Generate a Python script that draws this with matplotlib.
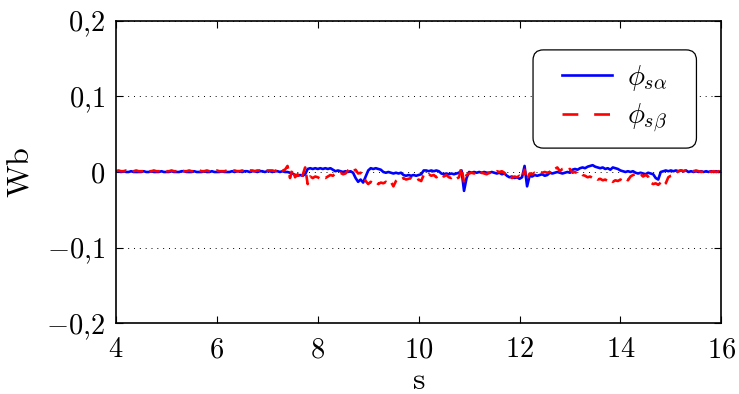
import matplotlib
matplotlib.use("Agg")
import matplotlib.pyplot as plt
from matplotlib.patches import FancyBboxPatch
import numpy as np

plt.rcParams['mathtext.fontset'] = 'cm'
plt.rcParams['font.family'] = 'serif'
plt.rcParams['font.serif'] = ['cmr10', 'DejaVu Serif']
plt.rcParams['axes.formatter.use_mathtext'] = True

# flux estimates, mWb, one sample every 0.05 s from 4 s to 16 s
phi_alpha = [
    1, 1, 0, 1, 0, 0, 1, 0, 0, 0, 0, 1, 0, 0, 1, 0, 0, 0, 1, 0,          # 4
    0, 0, 1, 0, 0, 0, 1, 1, 0, 0, 0, 1, 0, 0, 0, 1, 0, 0, 1, 0,          # 5
    0, 0, 1, 0, 0, 0, 1, 0, 1, 1, 0, 1, 1, 0, 1, 1, 0, 1, 1, 0,          # 6
    1, 1, 0, 1, 1, 0, 1, 0, 0, -1, -2, -4, -5, -4, -5, -3, 4, 5, 4, 5,   # 7
    4, 5, 4, 5, 4, 5, 3, 1, 2, 1, 0, 1, 0, 1, -1, -8, -13, -10, -14, -6,  # 8
    2, 5, 4, 5, 4, 3, 0, -1, 0, -1, -2, -1, -2, -1, -4, -5, -4, -5, -4, -5,  # 9
    -4, -3, 2, 2, 1, 2, 1, 2, 1, -2, -3, -2, -3, -2, -3, -2, -1, 2, -25, -8,  # 10
    0, -1, 0, -1, 0, -1, 0, -1, -1, 0, -1, -2, -1, -3, -2, -5, -7, -6, -8, -7,  # 11
    -9, -7, 8, -19, -5, -6, -4, -5, -4, -3, -5, -4, -1, -2, -1, 0, -1, -2, -1, 0,  # 12
    -1, 3, 4, 3, 5, 6, 5, 7, 8, 9, 7, 6, 5, 6, 4, 5, 3, 6, 5, 4,        # 13
    2, 1, 0, 1, 0, 1, -1, -2, -1, -2, -3, -1, -2, -3, -8, -10, 0, 1, 2, 1,  # 14
    2, 1, 2, 1, 2, 1, 2, 0, 1, 0, 1, 0, 1, 0, 1, 0, 1, 0, 1, 0,          # 15
    1,
]
phi_beta = [
    1, 2, 1, 1, 2, 1, 1, 1, 2, 1, 1, 1, 2, 1, 1, 2, 1, 1, 1, 2,          # 4
    1, 1, 2, 1, 1, 1, 2, 1, 1, 2, 1, 1, 1, 2, 1, 1, 2, 1, 1, 1,          # 5
    2, 1, 1, 1, 2, 1, 1, 2, 1, 1, 2, 1, 1, 2, 2, 1, 2, 2, 1, 2,          # 6
    2, 2, 2, 1, 3, 5, 2, 3, 8, -8, 4, -7, -3, -10, -4, 6, -16, -6, -8, -6,  # 7
    -7, -9, -7, -8, -6, -4, -5, -2, -3, -1, -3, -2, 2, 4, 1, 3, -2, -1, -4, -12,  # 8
    -16, -13, -15, -13, -16, -14, -15, -13, -15, -13, -19, -12, -9, -10, -8, -10, -9, -8, -11, -12,  # 9
    -10, -12, -4, -6, -3, -5, -4, -7, -5, -3, -6, -4, -7, -8, -6, -9, -7, 6, -14, -4,  # 10
    -2, -1, -2, -1, -3, -1, -2, -3, -1, -2, 0, 1, 0, 1, -1, -6, -5, -8, -6, -7,  # 11
    -5, -8, 3, -10, -2, -3, -1, -2, 0, -1, 0, -1, 0, 5, 4, 6, 1, 4, 5, 3,  # 12
    4, -1, 0, -2, -1, -4, -5, -7, -6, -8, -7, -10, -9, -11, -10, -12, -10, -13, -11, -12,  # 13
    -10, -12, -9, -11, -6, -4, -3, -5, -3, -6, -4, -6, -14, -16, -15, -17, -14, -18, -15, -7,  # 14
    -5, -4, -2, 1, 2, 1, 2, 1, 2, 1, 2, 1, 0, 1, 0, 1, 0, 1, 0, 1,       # 15
    0,
]
t_start, t_end = 4, 16
x_ticks = [4, 6, 8, 10, 12, 14, 16]
y_ticks = [-0.2, -0.1, 0, 0.1, 0.2]

t = np.linspace(t_start, t_end, len(phi_alpha))
fa = np.array(phi_alpha) / 1000.0
fb = np.array(phi_beta) / 1000.0


def tick_text(v):
    if v == 0:
        return r'$0$'
    s = f'{abs(v):.1f}'.replace('.', '{,}')
    return (r'$-' if v < 0 else r'$') + s + '$'


fig = plt.figure(figsize=(7.39, 3.94), dpi=100)
ax = fig.add_axes([0.157, 0.180, 0.819, 0.767])

ax.plot(t, fa, color='#0000ff', lw=1.9, label=r'$\phi_{s\alpha}$')
ax.plot(t, fb, color='#ff0000', lw=1.9, linestyle=(0, (4, 2.5)), label=r'$\phi_{s\beta}$')

ax.set_xlim(t_start, t_end)
ax.set_ylim(-0.2, 0.2)
ax.set_xticks(x_ticks)
ax.set_xticklabels([f'${v}$' for v in x_ticks])
ax.set_yticks(y_ticks)
ax.set_yticklabels([tick_text(v) for v in y_ticks])
ax.tick_params(direction='in', length=5, width=0.8, labelsize=20.5,
               top=True, right=True)
ax.tick_params(axis='x', pad=10)
ax.tick_params(axis='y', pad=8)
ax.yaxis.grid(True, linestyle=(0, (1, 5)), color='k', lw=0.7)
for sp in ax.spines.values():
    sp.set_linewidth(1.2)

ax.set_xlabel(r'$\mathrm{s}$', fontsize=23, labelpad=3)
ax.set_ylabel(r'$\mathrm{Wb}$', fontsize=23, labelpad=8)

# legend box: wider side padding than the top/bottom padding
box = FancyBboxPatch((0.689, 0.579), 0.27, 0.325, transform=ax.transAxes,
                     boxstyle='round,pad=0,rounding_size=0.017',
                     mutation_aspect=2.0, facecolor='white', edgecolor='k',
                     lw=0.9, zorder=4)
ax.add_patch(box)
leg = ax.legend(loc='center', bbox_to_anchor=(0.824, 0.7415), fontsize=20.5,
                frameon=False, handlelength=1.75, borderpad=0, labelspacing=0.3,
                handletextpad=0.55, borderaxespad=0)
leg.set_zorder(5)
# longer dashes in the legend sample, as in the original
leg.get_lines()[1].set_linestyle((0, (6, 6)))

fig.savefig('out.png', dpi=100)
